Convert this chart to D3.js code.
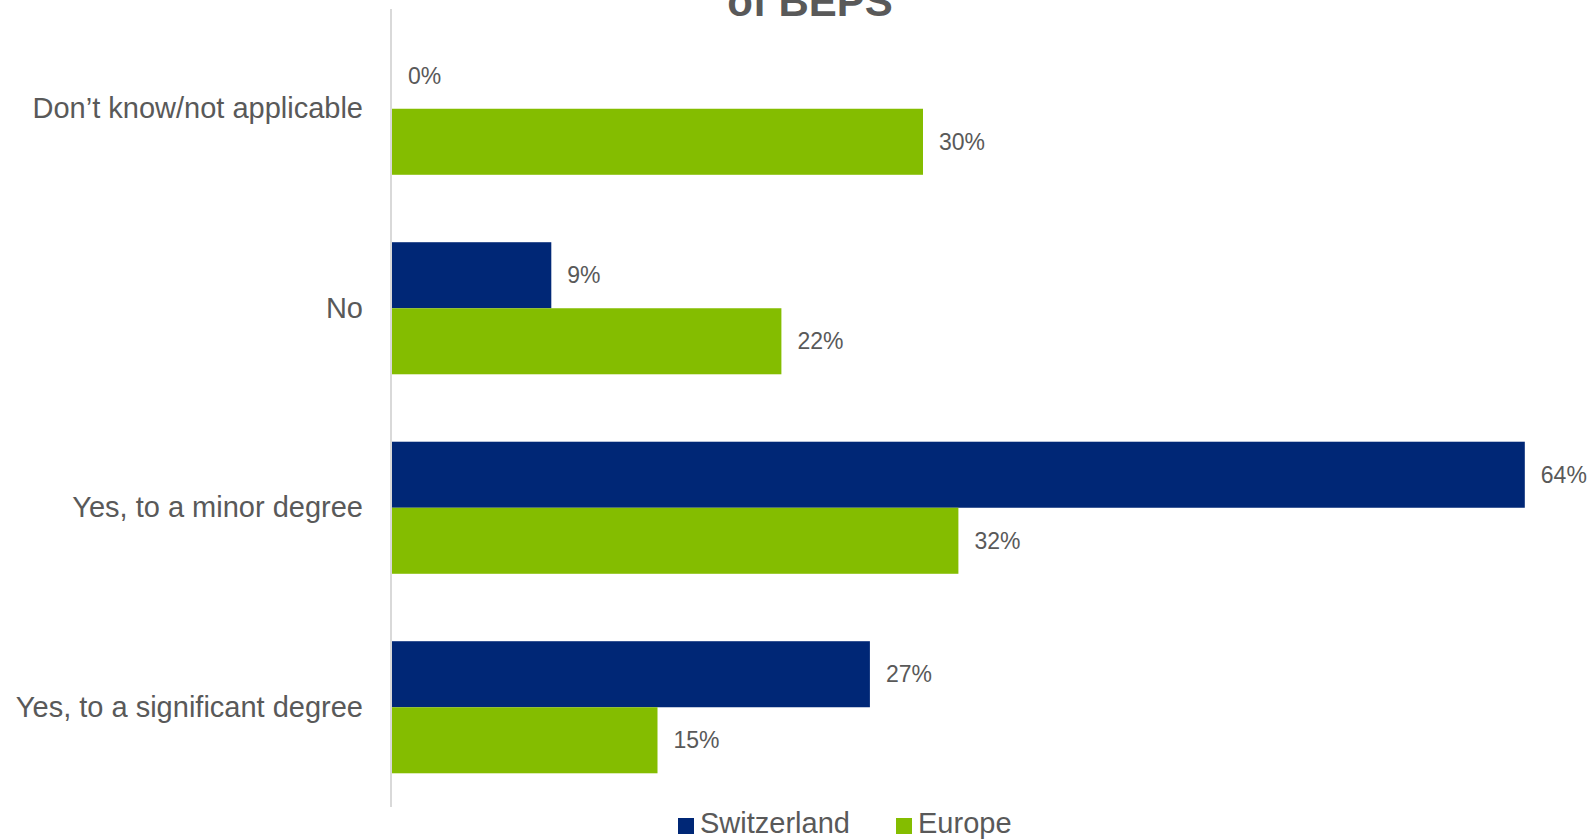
<!DOCTYPE html>
<html>
<head>
<meta charset="utf-8">
<script src="https://cdn.jsdelivr.net/npm/d3@7"></script>
<style>
  html, body { margin: 0; padding: 0; background: #ffffff; }
  svg { display: block; }
  text { font-family: "Liberation Sans", Arial, sans-serif; fill: #595959; }
</style>
</head>
<body>
<svg id="chart" width="1595" height="839"></svg>
<script>
// Survey answers, top to bottom
const categories = [
  "Don\u2019t know/not applicable",
  "No",
  "Yes, to a minor degree",
  "Yes, to a significant degree"
];
const seriesNames = ["Switzerland", "Europe"];
const seriesColors = ["#002776", "#84BD00"];
const switzerland = [0, 9, 64, 27];
const europe = [30, 22, 32, 15];
const titleText = "of BEPS";

const rows = categories.map((c, i) => ({
  category: c,
  values: [switzerland[i], europe[i]]
}));

const svg = d3.select("#chart");
const plotLeft = 392, plotTop = 9, plotBottom = 807;

const y = d3.scaleBand()
  .domain(categories)
  .range([plotTop, plotBottom])
  .paddingInner(0.338)
  .paddingOuter(0.169);

const ySub = d3.scaleBand()
  .domain(seriesNames)
  .range([0, y.bandwidth()]);

const x = d3.scaleLinear()
  .domain([0, 70])
  .range([plotLeft, plotLeft + 70 * 17.7]);

// Title (last line)
svg.append("text")
  .attr("x", 810)
  .attr("y", 16)
  .attr("text-anchor", "middle")
  .style("font-size", "42px")
  .style("font-weight", "bold")
  .text(titleText);

// Bars
const groups = svg.append("g").selectAll("g")
  .data(rows)
  .join("g")
  .attr("transform", d => `translate(0,${y(d.category)})`);

groups.selectAll("rect")
  .data(d => d.values.map((v, k) => ({ v, k })))
  .join("rect")
  .attr("x", x(0))
  .attr("y", d => ySub(seriesNames[d.k]))
  .attr("width", d => x(d.v) - x(0))
  .attr("height", ySub.bandwidth())
  .attr("fill", d => seriesColors[d.k]);

groups.selectAll("text.val")
  .data(d => d.values.map((v, k) => ({ v, k })))
  .join("text")
  .attr("class", "val")
  .attr("x", d => x(d.v) + 16)
  .attr("y", d => ySub(seriesNames[d.k]) + ySub.bandwidth() / 2)
  .attr("dy", "0.35em")
  .style("font-size", "23px")
  .text(d => d.v + "%");

// Category axis
const axis = svg.append("g")
  .attr("transform", `translate(${plotLeft - 1},0)`)
  .call(d3.axisLeft(y).tickSize(0).tickPadding(28));
axis.select(".domain")
  .attr("d", `M0,${plotTop}V${plotBottom}`)
  .attr("stroke", "#D9D9D9")
  .attr("stroke-width", 2);
axis.selectAll(".tick text")
  .style("font-size", "29px")
  .style("font-family", "'Liberation Sans', Arial, sans-serif")
  .attr("fill", "#595959");

// Legend
const legendItems = [
  { name: seriesNames[0], color: seriesColors[0], x: 678 },
  { name: seriesNames[1], color: seriesColors[1], x: 896 }
];
const legend = svg.append("g").selectAll("g")
  .data(legendItems)
  .join("g")
  .attr("transform", d => `translate(${d.x},818)`);
legend.append("rect")
  .attr("width", 16).attr("height", 16)
  .attr("fill", d => d.color);
legend.append("text")
  .attr("x", 22)
  .attr("y", 15)
  .style("font-size", "29px")
  .text(d => d.name);
</script>
</body>
</html>
